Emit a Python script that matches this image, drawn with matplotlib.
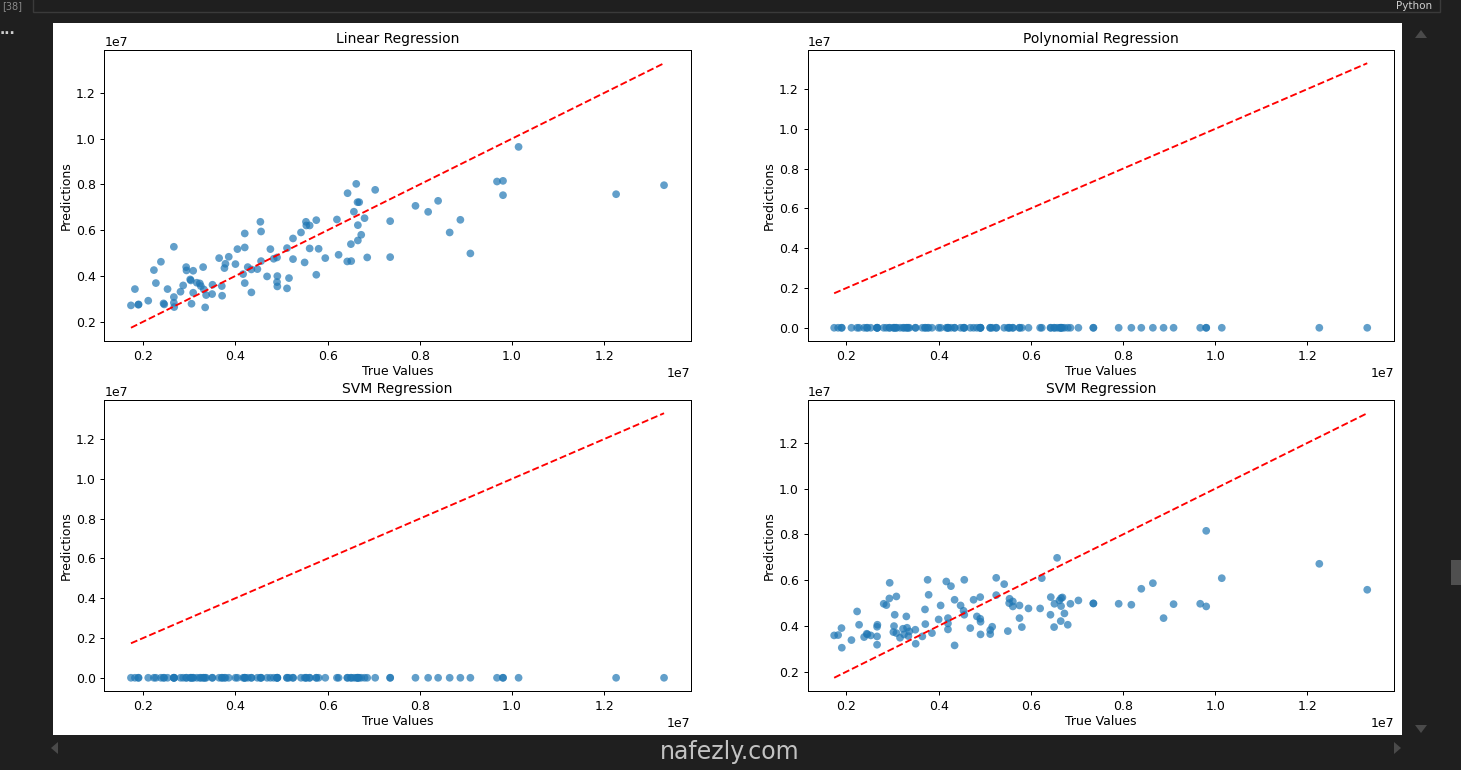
import numpy as np
import matplotlib
matplotlib.use("Agg")
import matplotlib.pyplot as plt
from matplotlib.patches import Rectangle, Polygon

# ---------------- data (values in millions) ----------------
SCALE = 1e6
true_values_m = [
    1.733, 1.819, 1.892, 1.899, 2.108, 2.231, 2.274, 2.383, 2.440, 2.455,
    2.527, 2.664, 2.664, 2.664, 2.671, 2.808, 2.866, 2.931, 2.938, 3.018,
    3.032, 3.047, 3.083, 3.083, 3.162, 3.227, 3.249, 3.299, 3.314, 3.343,
    3.364, 3.494, 3.502, 3.646, 3.704, 3.711, 3.761, 3.783, 3.855, 4.000,
    4.043, 4.166, 4.202, 4.202, 4.202, 4.267, 4.346, 4.346, 4.476, 4.541,
    4.556, 4.556, 4.686, 4.758, 4.830, 4.902, 4.902, 4.909, 4.909, 5.119,
    5.119, 5.162, 5.249, 5.249, 5.422, 5.501, 5.530, 5.538, 5.610, 5.610,
    5.754, 5.754, 5.805, 5.949, 6.202, 6.238, 6.426, 6.433, 6.505, 6.512,
    6.570, 6.621, 6.649, 6.656, 6.656, 6.685, 6.729, 6.801, 6.859, 7.032,
    7.357, 7.357, 7.906, 8.181, 8.397, 8.648, 8.880, 9.097, 9.675, 9.805,
    9.805, 10.143, 12.259, 13.299,
]
linear_pred_m = [
    2.712, 3.425, 2.741, 2.755, 2.916, 4.255, 3.687, 4.619, 2.799, 2.755,
    3.425, 5.274, 3.076, 2.828, 2.639, 3.309, 3.585, 4.386, 4.240, 3.847,
    3.803, 2.784, 4.226, 3.265, 3.702, 3.672, 3.556, 4.386, 3.410, 2.624,
    3.163, 3.207, 3.614, 4.779, 3.556, 3.134, 4.342, 4.531, 4.837, 4.517,
    5.172, 4.080, 5.856, 5.245, 3.687, 4.386, 3.280, 4.284, 4.298, 6.366,
    5.943, 4.648, 3.978, 5.172, 4.750, 4.808, 3.731, 3.993, 3.541, 5.216,
    3.456, 3.905, 5.638, 4.735, 5.900, 4.590, 6.366, 6.205, 6.205, 5.201,
    6.438, 4.051, 5.186, 4.779, 6.467, 4.924, 4.633, 7.617, 5.390, 4.648,
    6.808, 8.025, 7.224, 6.220, 5.551, 7.224, 5.798, 6.525, 4.808, 7.763,
    6.395, 4.822, 7.064, 6.802, 7.283, 5.900, 6.453, 4.983, 8.127, 8.156,
    7.530, 9.641, 7.573, 7.966,
]
svm_rbf_pred_m = [
    3.585, 3.600, 3.905, 3.047, 3.381, 4.633, 4.051, 3.512, 3.658, 3.629,
    3.585, 3.964, 3.541, 3.178, 4.051, 4.968, 4.910, 5.201, 5.885, 3.731,
    3.993, 4.488, 5.288, 3.687, 3.483, 3.876, 3.629, 4.415, 3.920, 3.556,
    3.760, 3.833, 3.221, 3.541, 4.721, 4.080, 6.016, 5.361, 3.687, 4.284,
    4.895, 5.943, 4.342, 3.847, 4.109, 5.739, 3.148, 5.143, 4.895, 4.662,
    4.488, 6.016, 3.905, 5.143, 4.415, 5.259, 4.313, 3.629, 4.182, 3.643,
    3.818, 3.964, 6.103, 5.346, 5.827, 3.774, 4.997, 5.187, 5.070, 4.852,
    4.342, 4.895, 3.949, 4.764, 4.764, 6.089, 4.488, 5.259, 3.949, 4.968,
    6.977, 5.114, 4.211, 5.215, 4.866, 5.245, 4.546, 4.051, 4.968, 5.114,
    4.983, 4.983, 4.969, 4.926, 5.624, 5.869, 4.341, 4.952, 4.969, 8.157,
    4.852, 6.087, 6.716, 5.581,
]
# polynomial and linear-kernel SVM predictions collapse to ~0 at this scale
poly_pred_m = [0.0] * len(true_values_m)
svm_lin_pred_m = [0.0] * len(true_values_m)

titles = ["Linear Regression", "Polynomial Regression", "SVM Regression", "SVM Regression"]
preds = [linear_pred_m, poly_pred_m, svm_lin_pred_m, svm_rbf_pred_m]

# ---------------- figure ----------------
W, H = 1461, 770
fig = plt.figure(figsize=(W / 100, H / 100), dpi=100, facecolor="#1f1f1f")

# background "notebook" frame in pixel coordinates
bg = fig.add_axes([0, 0, 1, 1], zorder=-10)
bg.set_xlim(0, W)
bg.set_ylim(H, 0)
bg.axis("off")
bg.add_patch(Rectangle((33, -5), 1407, 17, facecolor="#1f1f1f", edgecolor="#3a3a3a", lw=1))
bg.add_patch(Rectangle((53, 23), 1349, 712, facecolor="white", edgecolor="none"))
bg.text(2, 1, "[38]", color="#8a8a8a", fontsize=7, va="top", ha="left")
bg.text(1432, 1, "Python", color="#cfcfcf", fontsize=7.5, va="top", ha="right")
bg.text(0, 30, "...", color="#cfcfcf", fontsize=10, va="center", ha="left", fontweight="bold")
bg.add_patch(Polygon([[1415, 38], [1427, 38], [1421, 30]], closed=True, facecolor="#4a4a4a", edgecolor="none"))
bg.add_patch(Polygon([[1415, 725], [1427, 725], [1421, 733]], closed=True, facecolor="#4a4a4a", edgecolor="none"))
bg.add_patch(Polygon([[58, 742], [58, 754], [51, 748]], closed=True, facecolor="#4a4a4a", edgecolor="none"))
bg.add_patch(Polygon([[1394, 742], [1394, 754], [1401, 748]], closed=True, facecolor="#4a4a4a", edgecolor="none"))
bg.add_patch(Rectangle((1451, 560), 10, 25, facecolor="#4f4f4f", edgecolor="none"))
bg.text(730, 752, "nafezly.com", color="#e0e0e0", fontsize=17, ha="center", va="center",
        family="DejaVu Sans", alpha=0.85)

# axes positions (pixels: left, top, right, bottom)
boxes = [
    (104.3, 50, 690.7, 341),
    (807.5, 50, 1393.9, 341),
    (104.3, 400, 690.7, 691),
    (807.5, 400, 1393.9, 691),
]

x = np.array(true_values_m) * SCALE
lo, hi = x.min(), x.max()

for (l, t, r, b), title, p in zip(boxes, titles, preds):
    ax = fig.add_axes([l / W, 1 - b / H, (r - l) / W, (b - t) / H])
    y = np.array(p) * SCALE
    ax.scatter(x, y, s=31, alpha=0.7, color="#1f77b4", edgecolors="none")
    ax.plot([lo, hi], [lo, hi], "r--", lw=1.35)
    ax.set_title(title, fontsize=10, pad=5)
    ax.set_xlabel("True Values", fontsize=9, labelpad=2)
    ax.set_ylabel("Predictions", fontsize=9, labelpad=2)
    ax.tick_params(labelsize=9, length=3.2, width=0.72, pad=3)
    ax.xaxis.get_offset_text().set_fontsize(9)
    ax.yaxis.get_offset_text().set_fontsize(9)
    for s in ax.spines.values():
        s.set_linewidth(0.72)

fig.savefig("out.png", dpi=100, facecolor=fig.get_facecolor())
